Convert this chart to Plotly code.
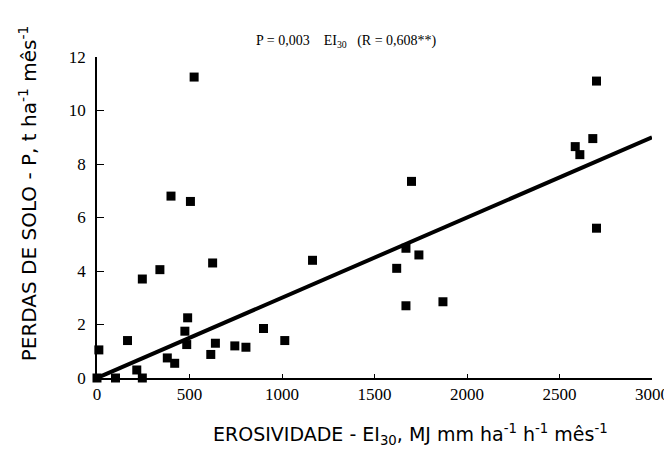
import plotly.graph_objects as go

# Observed data (EI30 vs soil loss P)
ei30 = [0, 10, 100, 165, 215, 245, 245, 340, 380, 420, 475, 490, 485, 615, 640, 625,
        745, 805, 900, 1015, 1165, 400, 505, 525, 1700, 1670, 1740, 1620, 1670, 1870,
        2700, 2585, 2610, 2680, 2700]
perdas = [0, 1.05, 0, 1.4, 0.3, 0, 3.7, 4.05, 0.75, 0.55, 1.75, 2.25, 1.25, 0.88, 1.3, 4.3,
          1.2, 1.15, 1.85, 1.4, 4.4, 6.8, 6.6, 11.25, 7.35, 4.85, 4.6, 4.1, 2.7, 2.85,
          5.6, 8.65, 8.35, 8.95, 11.1]

# Fitted line P = 0.003 EI30
fit_x = [0, 3000]
fit_coef = 0.003
fit_y = [fit_coef * v for v in fit_x]

x_ticks = [0, 500, 1000, 1500, 2000, 2500, 3000]
y_ticks = [0, 2, 4, 6, 8, 10, 12]

serif = "Liberation Serif, Times New Roman, serif"
sans = "DejaVu Sans, Verdana, sans-serif"

fig = go.Figure()
fig.add_trace(go.Scatter(x=fit_x, y=fit_y, mode="lines",
                         line=dict(color="black", width=4), showlegend=False, hoverinfo="skip"))
fig.add_trace(go.Scatter(x=ei30, y=perdas, mode="markers",
                         marker=dict(symbol="square", size=9, color="black"),
                         cliponaxis=False, showlegend=False))

fig.update_layout(
    width=672, height=450,
    margin=dict(l=89, r=28, t=49, b=80),
    paper_bgcolor="white", plot_bgcolor="white",
    xaxis=dict(range=[0, 3000], tickvals=x_ticks, ticktext=[str(v) for v in x_ticks],
               automargin=False,
               showgrid=False, zeroline=False, showline=True, linecolor="black", linewidth=1.5,
               ticks="inside", ticklen=4, tickcolor="black",
               tickfont=dict(family=serif, size=17, color="black")),
    yaxis=dict(range=[0, 12], tickvals=y_ticks, ticktext=[str(v) for v in y_ticks],
               automargin=False, ticklabelstandoff=6,
               showgrid=False, zeroline=False, showline=True, linecolor="black", linewidth=1.5,
               ticks="inside", ticklen=7, tickcolor="black",
               tickfont=dict(family=serif, size=17, color="black")),
    annotations=[
        dict(text="P = 0,003    EI<sub>30</sub>   (R = 0,608**)", xref="paper", yref="paper",
             x=0.45, y=1.015, xanchor="center", yanchor="bottom", showarrow=False,
             font=dict(family=serif, size=14, color="black")),
        dict(text="EROSIVIDADE - EI<sub>30</sub>, MJ mm ha<sup>-1</sup> h<sup>-1</sup> mês<sup>-1</sup>",
             xref="paper", yref="paper", x=0.564, y=-0.175, xanchor="center", yanchor="middle",
             showarrow=False, font=dict(family=sans, size=19, color="black")),
        dict(text="PERDAS DE SOLO - P, t ha<sup>-1</sup> mês<sup>-1</sup>",
             xref="paper", yref="paper", x=-0.124, y=0.576, xanchor="center", yanchor="middle",
             textangle=-90, showarrow=False, font=dict(family=sans, size=20, color="black")),
    ],
)

fig.write_html("out.html")
